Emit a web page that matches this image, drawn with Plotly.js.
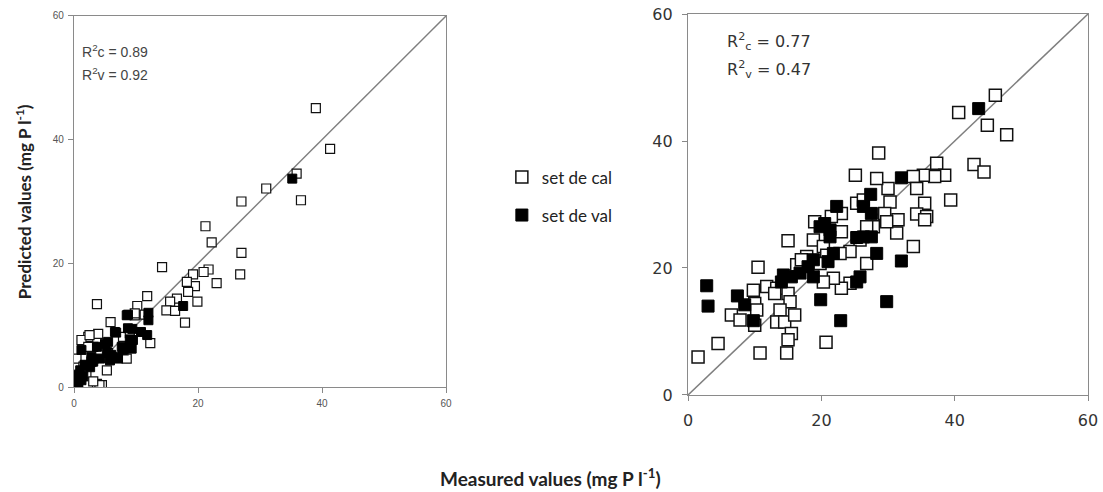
<!DOCTYPE html>
<html>
<head>
<meta charset="utf-8">
<script src="https://cdn.plot.ly/plotly-3.0.1.min.js"></script>
<style>html,body{margin:0;padding:0;background:#fff;}#chart{width:1103px;height:492px;}</style>
</head>
<body>
<div id="chart"></div>
<script>
// 1:1 reference line
const lineXY = [0, 60];

// Left panel: calibration set
const leftCalX = [39.0, 41.3, 35.9, 36.6, 31.0, 27.0, 27.0, 26.8, 21.2, 22.2, 23.0, 21.7, 20.9, 19.2, 19.5, 18.2, 18.4, 19.9, 17.9, 16.6, 15.5, 14.9, 16.3, 14.2, 11.8, 10.2, 9.8, 12.3, 5.9, 3.7, 3.9, 2.3, 1.2, 0.4, 3.1, 8.5, 8.0, 5.3, 4.5, 3.7, 2.0, 1.0, 2.5, 2.3, 4.1, 3.1, 11.4, 9.8, 7.9, 9.0, 5.5, 2.8, 1.5];
const leftCalY = [45.1, 38.5, 34.5, 30.2, 32.1, 30.0, 21.7, 18.2, 26.0, 23.4, 16.8, 19.0, 18.6, 18.2, 16.3, 17.0, 15.4, 13.8, 10.4, 14.3, 13.8, 12.4, 12.3, 19.4, 14.7, 13.1, 11.6, 7.1, 10.5, 13.4, 8.6, 8.1, 7.6, 4.6, 6.5, 4.6, 5.9, 2.7, 0.3, 0.5, 2.2, 1.6, 8.4, 6.5, 0.3, 0.9, 11.7, 11.9, 8.1, 8.7, 5.5, 4.1, 3.3];
// Left panel: validation set
const leftValX = [35.2, 17.6, 8.5, 12.0, 12.0, 9.4, 11.8, 6.8, 9.0, 9.3, 7.7, 6.3, 5.0, 5.3, 3.7, 2.8, 1.8, 1.0, 0.4, 0.7, 1.2, 2.6, 4.2, 5.8, 0.6, 0.6, 1.5, 1.7, 1.2, 3.1, 5.5, 6.6, 6.0, 7.1, 7.9, 9.0, 9.5, 8.7, 8.7, 10.8];
const leftValY = [33.7, 13.1, 11.6, 12.0, 10.8, 9.4, 8.4, 8.8, 7.7, 6.2, 6.5, 4.9, 7.0, 5.7, 6.5, 4.9, 3.5, 2.7, 0.8, 0.2, 1.1, 3.2, 4.6, 4.3, 2.0, 0.1, 1.7, 3.6, 6.0, 4.1, 7.3, 8.9, 5.2, 4.6, 6.0, 6.5, 7.6, 11.7, 9.5, 8.9];

// Right panel: calibration set
const rightCalX = [46.1, 40.6, 44.9, 47.8, 42.9, 44.4, 39.4, 37.3, 38.5, 37.0, 35.3, 33.8, 34.3, 35.5, 34.3, 35.8, 35.5, 33.8, 31.3, 31.5, 30.0, 28.6, 28.3, 25.1, 30.3, 29.5, 29.8, 27.8, 26.8, 25.3, 26.3, 25.8, 26.8, 24.3, 24.3, 23.0, 21.8, 20.3, 23.0, 23.0, 21.5, 19.0, 18.8, 20.3, 20.8, 19.8, 22.8, 15.0, 10.5, 16.3, 11.8, 9.8, 13.3, 13.0, 15.0, 15.3, 10.0, 10.3, 6.5, 7.8, 10.0, 13.8, 13.3, 14.5, 16.0, 15.5, 15.0, 14.8, 10.8, 20.7, 4.5, 1.5, 17.8, 17.0];
const rightCalY = [47.2, 44.5, 42.5, 41.0, 36.3, 35.1, 30.7, 36.5, 34.6, 34.4, 34.6, 34.4, 32.5, 30.2, 28.5, 28.1, 27.6, 23.4, 25.5, 27.6, 32.5, 38.1, 34.1, 34.6, 30.4, 28.6, 27.3, 26.5, 26.5, 30.2, 30.7, 24.4, 20.7, 22.6, 17.6, 16.8, 18.4, 17.8, 25.7, 28.6, 28.1, 27.3, 24.4, 23.4, 22.0, 20.7, 22.3, 24.3, 20.1, 20.5, 17.1, 16.5, 16.8, 16.0, 16.0, 14.7, 14.4, 13.4, 12.6, 11.8, 11.0, 13.4, 11.5, 11.5, 12.6, 9.7, 8.7, 6.6, 6.6, 8.3, 8.1, 6.0, 21.8, 21.3];
// Right panel: validation set
const rightValX = [43.6, 32.0, 27.4, 22.3, 20.5, 21.3, 21.3, 25.3, 26.3, 26.3, 27.5, 27.5, 28.3, 32.0, 25.8, 25.3, 21.0, 18.8, 18.0, 18.8, 16.8, 15.5, 14.3, 14.0, 2.8, 3.0, 7.4, 8.5, 9.8, 19.9, 22.9, 29.8, 19.8, 21.8];
const rightValY = [45.1, 34.2, 31.6, 29.7, 27.0, 26.0, 24.9, 24.8, 24.9, 29.7, 28.6, 24.9, 22.3, 21.1, 18.6, 17.8, 21.0, 21.3, 20.2, 18.6, 19.2, 18.6, 18.9, 17.8, 17.2, 14.0, 15.6, 14.2, 11.7, 15.0, 11.7, 14.7, 26.5, 22.3];

const tickVals = [0, 20, 40, 60];
const tickText = ['0', '20', '40', '60'];

const lineStyle = {color: '#7f7f7f', width: 1.5};

const traces = [
  {x: lineXY, y: lineXY, mode: 'lines', line: lineStyle, xaxis: 'x', yaxis: 'y', showlegend: false, hoverinfo: 'skip'},
  {x: lineXY, y: lineXY, mode: 'lines', line: lineStyle, xaxis: 'x2', yaxis: 'y2', showlegend: false, hoverinfo: 'skip'},
  {x: leftCalX, y: leftCalY, mode: 'markers', xaxis: 'x', yaxis: 'y', showlegend: false,
   marker: {symbol: 'square', size: 9, color: '#ffffff', line: {color: '#111', width: 1.2}}},
  {x: leftValX, y: leftValY, mode: 'markers', xaxis: 'x', yaxis: 'y', showlegend: false,
   marker: {symbol: 'square', size: 9, color: '#000000', line: {color: '#000', width: 1}}},
  {x: rightCalX, y: rightCalY, mode: 'markers', xaxis: 'x2', yaxis: 'y2', name: 'set de cal', legendgroup: 'a',
   marker: {symbol: 'square', size: 12, color: '#ffffff', line: {color: '#111', width: 1.5}}},
  {x: rightValX, y: rightValY, mode: 'markers', xaxis: 'x2', yaxis: 'y2', name: 'set de val', legendgroup: 'b',
   marker: {symbol: 'square', size: 12, color: '#000000', line: {color: '#000', width: 1}}}
];

function axis(domain, anchor, big) {
  return {
    domain: domain, anchor: anchor, range: [0, 60], autorange: false,
    tickvals: tickVals, ticktext: tickText, ticks: 'outside', ticklen: 5, tickcolor: '#888',
    showline: true, mirror: true, linecolor: '#8a8a8a', linewidth: 1.2,
    showgrid: false, zeroline: false,
    ticklabelstandoff: big ? 6 : 2,
    tickfont: big ? {family: 'DejaVu Sans, sans-serif', size: 16, color: '#333'}
                  : {family: 'Liberation Sans Narrow, Liberation Sans, sans-serif', size: 10, color: '#555'}
  };
}

const layout = {
  width: 1103, height: 492,
  margin: {l: 0, r: 0, t: 0, b: 0},
  paper_bgcolor: '#ffffff', plot_bgcolor: '#ffffff',
  xaxis: axis([0.0671, 0.4044], 'y', false),
  yaxis: axis([0.2134, 0.9675], 'x', false),
  xaxis2: axis([0.6238, 0.9864], 'y2', true),
  yaxis2: axis([0.1972, 0.9715], 'x2', true),
  showlegend: true,
  legend: {x: 0.455, y: 0.676, xanchor: 'left', yanchor: 'top', traceorder: 'grouped', tracegroupgap: 13,
           font: {family: 'Lato, sans-serif', size: 17, color: '#222'}, itemwidth: 30, bgcolor: 'rgba(0,0,0,0)'},
  annotations: [
    {text: '<b>Predicted values (mg P l<sup>-1</sup>)</b>', xref: 'paper', yref: 'paper', x: 0.009, y: 0.59,
     textangle: -90, showarrow: false, font: {family: 'Lato, sans-serif', size: 17, color: '#222'}},
    {text: '<b>Measured values (mg P l<sup>-1</sup>)</b>', xref: 'paper', yref: 'paper', x: 0.499, y: 0.0,
     yanchor: 'bottom', showarrow: false, font: {family: 'Lato, sans-serif', size: 19, color: '#222'}},
    {text: 'R<sup>2</sup>c = 0.89', xref: 'x', yref: 'y', x: 1.0, y: 54.4, xanchor: 'left', showarrow: false,
     font: {family: 'Liberation Sans Narrow, Liberation Sans, sans-serif', size: 14, color: '#444'}},
    {text: 'R<sup>2</sup>v = 0.92', xref: 'x', yref: 'y', x: 1.0, y: 50.6, xanchor: 'left', showarrow: false,
     font: {family: 'Liberation Sans Narrow, Liberation Sans, sans-serif', size: 14, color: '#444'}},
    {text: 'R<sup>2</sup><sub>c</sub> = 0.77', xref: 'x2', yref: 'y2', x: 5.5, y: 55.7, xanchor: 'left', showarrow: false,
     font: {family: 'DejaVu Sans, sans-serif', size: 16, color: '#333'}},
    {text: 'R<sup>2</sup><sub>v</sub> = 0.47', xref: 'x2', yref: 'y2', x: 5.5, y: 51.2, xanchor: 'left', showarrow: false,
     font: {family: 'DejaVu Sans, sans-serif', size: 16, color: '#333'}}
  ]
};

Plotly.newPlot('chart', traces, layout, {staticPlot: true, displayModeBar: false});
</script>
</body>
</html>
